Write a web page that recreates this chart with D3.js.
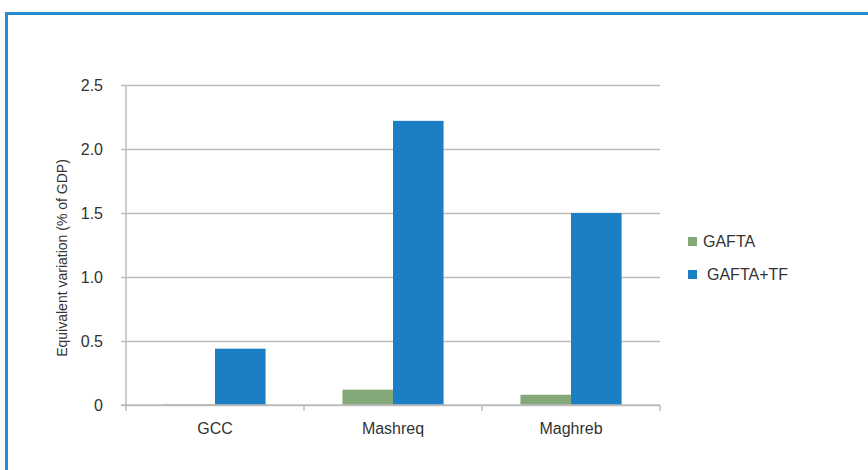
<!DOCTYPE html>
<html>
<head>
<meta charset="utf-8">
<script src="https://cdn.jsdelivr.net/npm/d3@7"></script>
<style>
  html, body { margin: 0; padding: 0; background: #fff; }
  svg { display: block; }
  text { font-family: "Liberation Sans", Arial, sans-serif; fill: #333; }
</style>
</head>
<body>
<svg id="chart" width="868" height="470"></svg>
<script>
// Regions and welfare effects (equivalent variation, % of GDP)
const regions = ["GCC", "Mashreq", "Maghreb"];
const seriesNames = ["GAFTA", "GAFTA+TF"];
const gafta = [0.005, 0.12, 0.08];
const gaftaTF = [0.44, 2.22, 1.5];
const yTicks = [0, 0.5, 1.0, 1.5, 2.0, 2.5];
const yTickLabels = ["0", "0.5", "1.0", "1.5", "2.0", "2.5"];
const colors = ["#84a877", "#1c7ec5"];

const svg = d3.select("#chart");

// Outer frame: blue rule on top and left
svg.append("path")
  .attr("d", "M6.5,470 L6.5,13.5 L868,13.5")
  .attr("fill", "none")
  .attr("stroke", "#2a8bd1")
  .attr("stroke-width", 3);

const plot = { left: 126, right: 660, top: 85, bottom: 405 };

const x = d3.scaleBand().domain(regions).range([plot.left, plot.right]);
const xInner = d3.scaleBand().domain(seriesNames)
  .range([0, x.bandwidth()]).paddingOuter(0.76).paddingInner(0);
const y = d3.scaleLinear().domain([0, 2.5]).range([plot.bottom, plot.top]);

// Horizontal gridlines with short left ticks
const yAxis = d3.axisLeft(y)
  .tickValues(yTicks)
  .tickFormat((d, i) => yTickLabels[i])
  .tickSize(-(plot.right - plot.left))
  .tickPadding(23);
const gy = svg.append("g").attr("transform", `translate(${plot.left},0)`).call(yAxis);
gy.select(".domain").remove();
gy.selectAll(".tick line")
  .attr("x1", -5)
  .attr("stroke", "#bcbcbc")
  .attr("stroke-width", 1.5);
gy.selectAll(".tick text")
  .style("font-size", "16px")
  .attr("fill", "#333");

// Vertical axis line
svg.append("line")
  .attr("x1", plot.left).attr("x2", plot.left)
  .attr("y1", plot.top).attr("y2", plot.bottom)
  .attr("stroke", "#bcbcbc").attr("stroke-width", 1.5);

// Bars
const data = regions.map((r, i) => ({ region: r, values: [gafta[i], gaftaTF[i]] }));
const groups = svg.append("g").selectAll("g").data(data).join("g")
  .attr("transform", d => `translate(${x(d.region)},0)`);
groups.selectAll("rect")
  .data(d => d.values.map((v, j) => ({ key: seriesNames[j], value: v, j })))
  .join("rect")
  .attr("x", d => xInner(d.key))
  .attr("width", xInner.bandwidth())
  .attr("y", d => y(d.value))
  .attr("height", d => y(0) - y(d.value))
  .attr("fill", d => colors[d.j]);

// Category axis at zero with tick marks between groups
const xAxis = d3.axisBottom(x).tickSize(0).tickPadding(18);
const gx = svg.append("g").attr("transform", `translate(0,${plot.bottom})`).call(xAxis);
gx.select(".domain").remove();
gx.selectAll(".tick text").style("font-size", "16px").attr("fill", "#333");
svg.append("line")
  .attr("x1", plot.left - 5).attr("x2", plot.right)
  .attr("y1", plot.bottom).attr("y2", plot.bottom)
  .attr("stroke", "#bcbcbc").attr("stroke-width", 1.5);
const boundaries = regions.map(r => x(r)).concat([x(regions[regions.length - 1]) + x.bandwidth()]);
svg.append("g").selectAll("line").data(boundaries).join("line")
  .attr("x1", d => d).attr("x2", d => d)
  .attr("y1", plot.bottom).attr("y2", plot.bottom + 6)
  .attr("stroke", "#bcbcbc").attr("stroke-width", 1.5);

// Y axis title
svg.append("text")
  .attr("transform", `translate(67,258) rotate(-90)`)
  .attr("text-anchor", "middle")
  .style("font-size", "14px")
  .text("Equivalent variation (% of GDP)");

// Legend
const legend = svg.append("g").selectAll("g").data(seriesNames).join("g")
  .attr("transform", (d, i) => `translate(688,${237 + i * 33})`);
legend.append("rect")
  .attr("width", 9).attr("height", 9)
  .attr("fill", (d, i) => colors[i]);
legend.append("text")
  .attr("x", (d, i) => i === 0 ? 15 : 19)
  .attr("y", 10)
  .style("font-size", "16px")
  .text(d => d);
</script>
</body>
</html>
